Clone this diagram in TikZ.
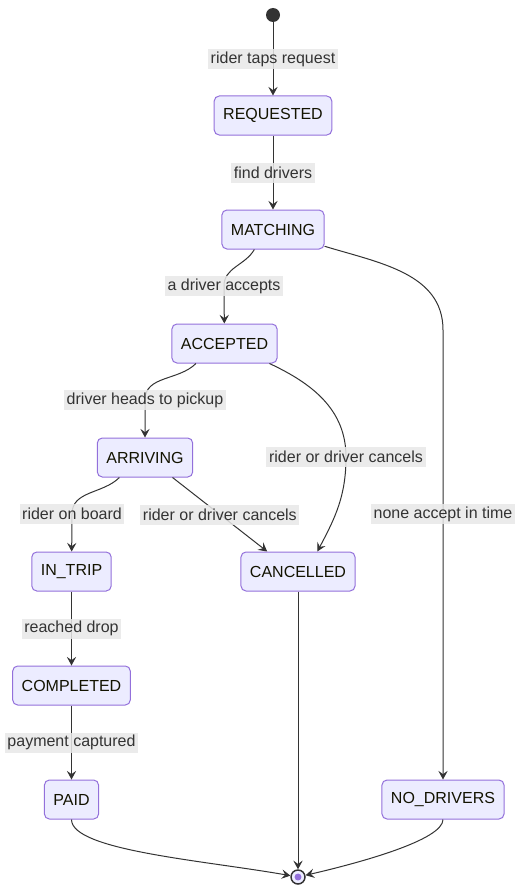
\documentclass[tikz,border=0pt]{standalone}
\usepackage{fontspec}
\setmainfont{Liberation Sans}
\usepackage{tikz}
\usetikzlibrary{arrows.meta,positioning}

\definecolor{stfill}{HTML}{ECECFF}
\definecolor{stborder}{HTML}{9370DB}
\definecolor{sttext}{HTML}{131300}
\definecolor{edgegray}{HTML}{333333}
\definecolor{lbltext}{HTML}{333333}
\definecolor{lblgray}{HTML}{E8E8E8}

\begin{document}
\begin{tikzpicture}[x=0.75pt,y=-0.75pt,->,>={Stealth[length=6.5pt,width=7pt,inset=2.5pt]},line width=0.75pt,draw=edgegray,node distance=85.5pt,
  every node/.style={font=\fontsize{12pt}{14pt}\selectfont},
  st/.style={draw=stborder,fill=stfill,rounded corners=3.75pt,minimum height=29.25pt,inner xsep=6.75pt,inner ysep=0pt,text=sttext,line width=0.75pt},
  lbl/.style={fill=lblgray,fill opacity=0.85,text opacity=1,text=lbltext,inner xsep=2pt,inner ysep=0pt,minimum height=15pt}]

      \useasboundingbox (0,0) rectangle (521,892);

      \node[circle,fill=edgegray,minimum size=10.5pt,inner sep=0pt] (start) at (273,15) {};
      \node[st] (requested) at (273,115.5) {REQUESTED};
      \node[st] (matching) [below of=requested] {MATCHING};
      \node[st] (accepted) at (224.5,343.5) {ACCEPTED};
      \node[st] (arriving) at (145,457.5) {ARRIVING};
      \node[st] (intrip) at (71.5,571.5) {IN\_TRIP};
      \node[st] (completed) [below of=intrip] {COMPLETED};
      \node[st] (paid) [below of=completed] {PAID};
      \node[st] (cancelled) at (298,571.5) {CANCELLED};
      \node[st] (nodrivers) at (443,799.5) {NO\_DRIVERS};
      \node[circle,draw=edgegray,line width=1.1pt,fill=stfill,minimum size=10.5pt,inner sep=0pt,
        path picture={\fill[stborder] (path picture bounding box.center) circle (2.6pt);}] (stop) at (298,877) {};

      \path (start) edge node[lbl] {rider taps request} (requested);
      \path (requested) edge node[lbl] {find drivers} (matching);
      \draw (matching.227) to[out=-120,in=90] (224,286) node[lbl] {a driver accepts} -- (accepted);
      \draw (matching.342) to[out=-17,in=90] (443,330) -- node[lbl,pos=0.41] {none accept in time} (nodrivers);
      \draw (accepted.215) to[out=-135,in=90] (145,400) node[lbl] {driver heads to pickup} -- (arriving);
      \draw (accepted.336) to[out=-25,in=90] (346,457) node[lbl] {rider or driver cancels} to[out=-90,in=62] (cancelled.46);
      \draw (arriving.218) to[out=-135,in=90] (72,514) node[lbl] {rider on board} -- (intrip);
      \path (arriving.324) edge node[lbl] {rider or driver cancels} (cancelled.147);
      \path (intrip) edge node[lbl] {reached drop} (completed);
      \path (completed) edge node[lbl] {payment captured} (paid);

      \path (cancelled) edge (stop);
      \path (paid) edge[out=-90,in=170,out looseness=0.35] (stop);
      \path (nodrivers) edge[out=-90,in=13,out looseness=0.35] (stop);

\end{tikzpicture}
\end{document}
